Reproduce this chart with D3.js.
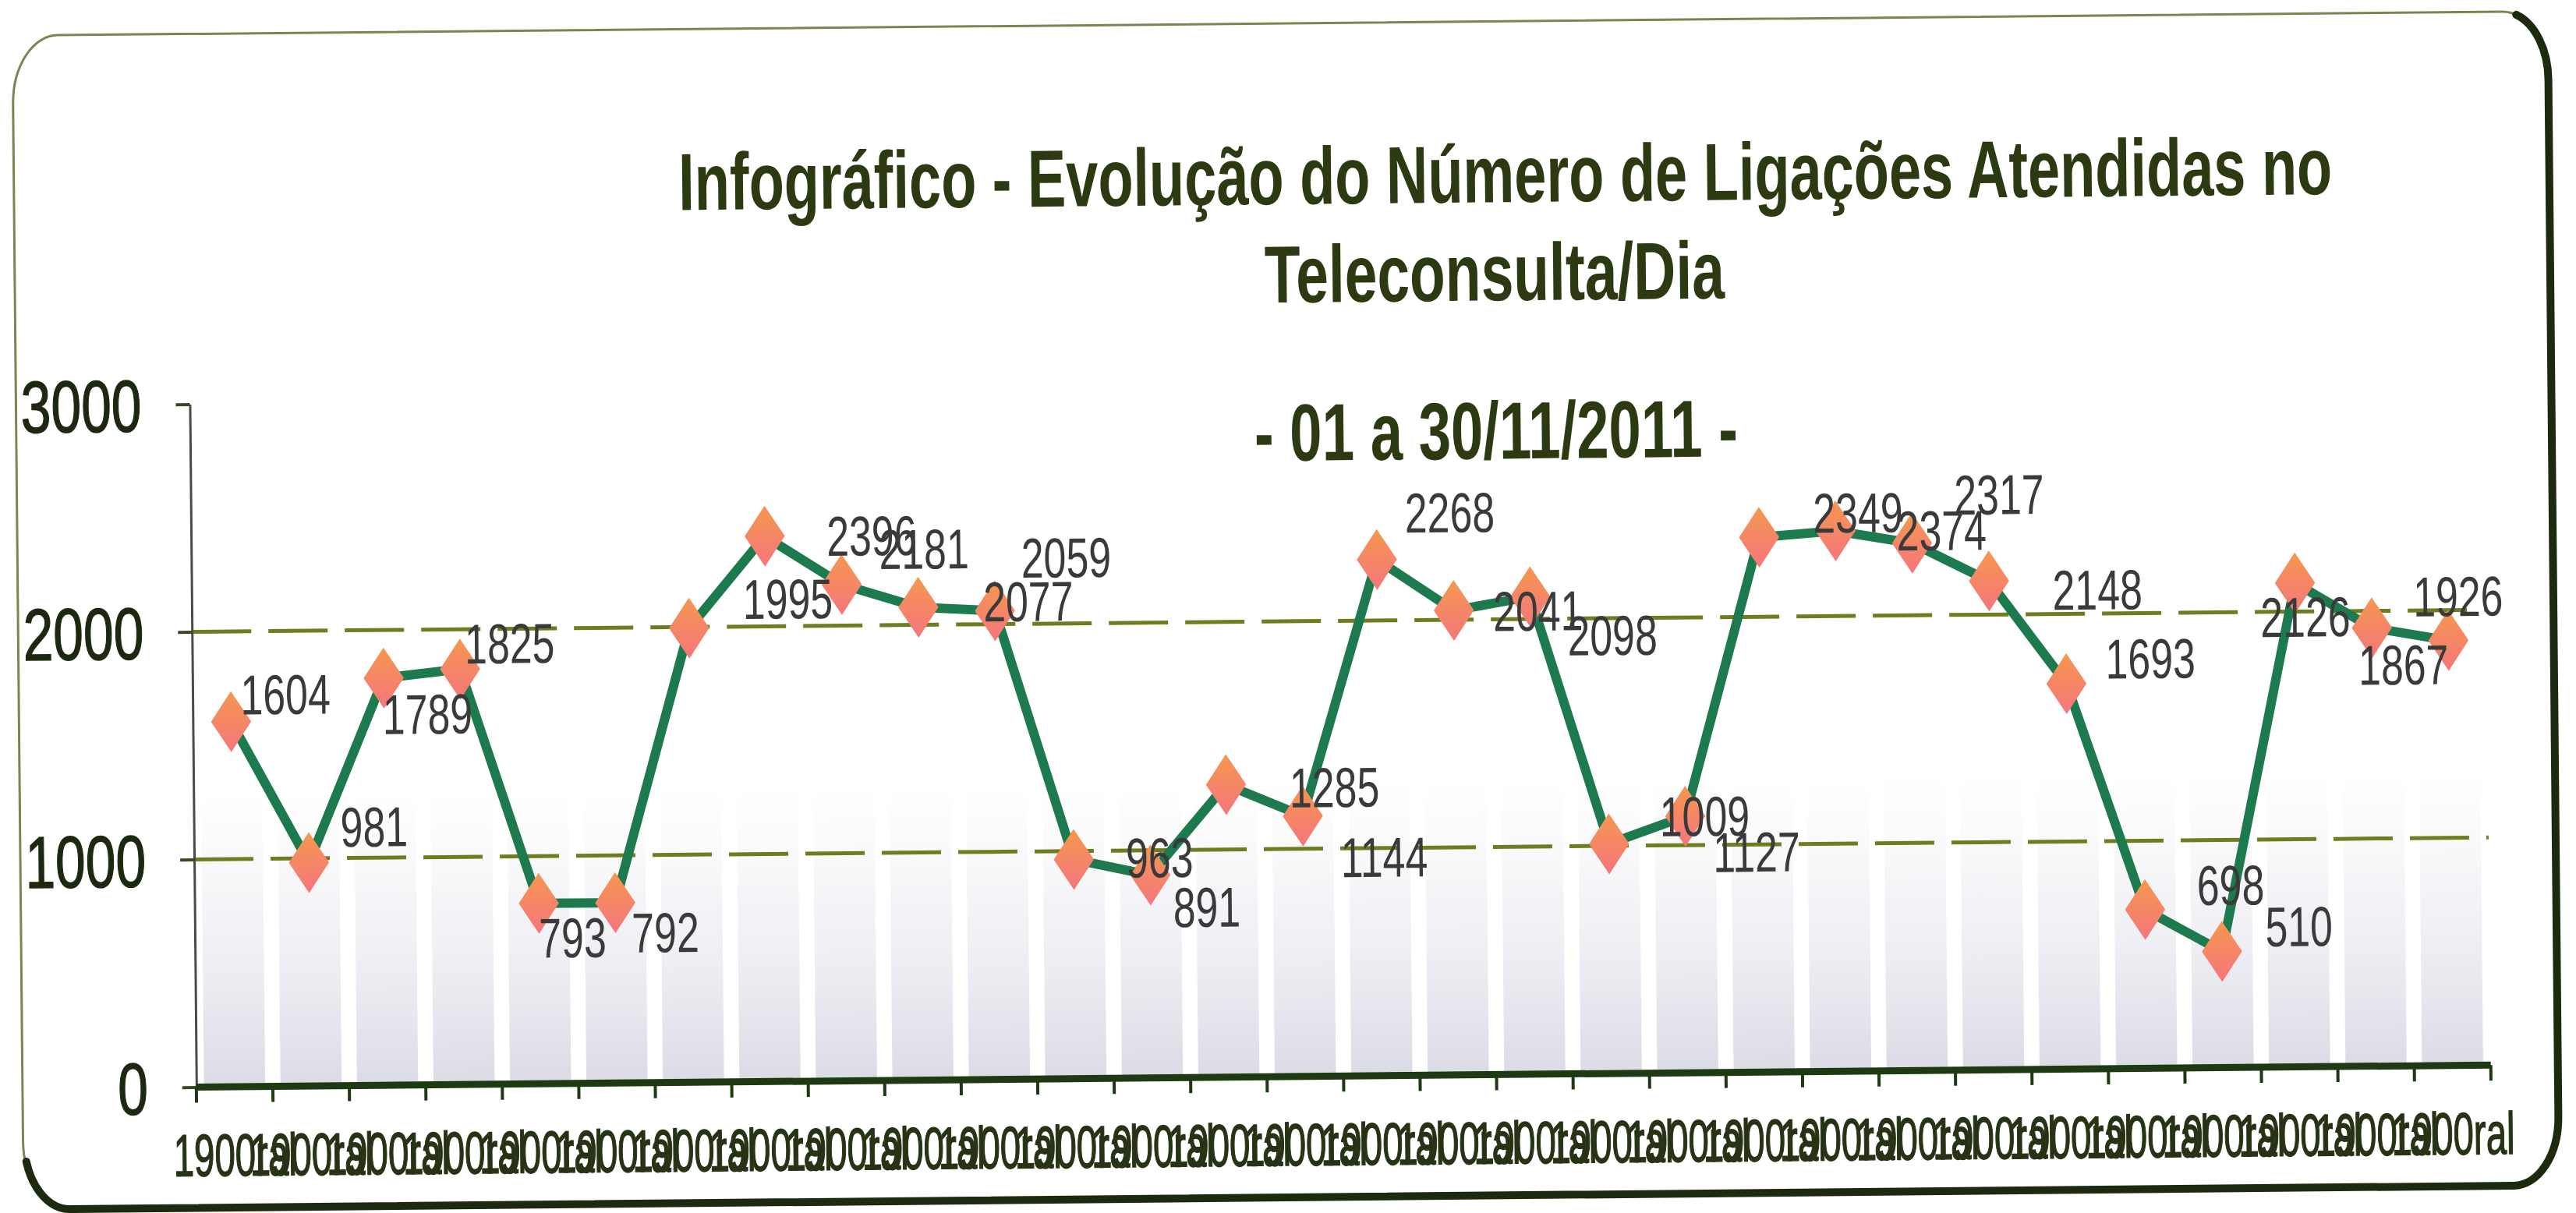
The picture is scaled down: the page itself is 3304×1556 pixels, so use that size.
<!DOCTYPE html>
<html>
<head>
<meta charset="utf-8">
<script src="https://cdn.jsdelivr.net/npm/d3@7"></script>
<style>
  html, body { margin: 0; padding: 0; background: #fff; }
  svg { display: block; }
  text { font-family: "Liberation Sans", Arial, sans-serif; }
</style>
</head>
<body>
<svg id="chart" width="3304" height="1556"></svg>
<script>
// ---- data ----
const days = ["01","02","03","04","05","06","07","08","09","10",
              "11","12","13","14","15","16","17","18","19","20",
              "21","22","23","24","25","26","27","28","29","30"];
const calls = [1604, 981, 1789, 1825, 793, 792, 1995, 2396, 2181, 2077,
               2059, 963, 891, 1285, 1144, 2268, 2041, 2098, 1009, 1127,
               2349, 2374, 2317, 2148, 1693, 698, 510, 2126, 1926, 1867];
const tickLabels = ["1900ral","1900ral","1900ral","1900ral","1900ral","1900ral","1900ral","1900ral","1900ral","1900ral",
                    "1900ral","1900ral","1900ral","1900ral","1900ral","1900ral","1900ral","1900ral","1900ral","1900ral",
                    "1900ral","1900ral","1900ral","1900ral","1900ral","1900ral","1900ral","1900ral","1900ral","1900ral"];
const yTicks = [0, 1000, 2000, 3000];
const gridValues = [1000, 2000];
const titleLines = ["Infográfico - Evolução do Número de Ligações Atendidas no",
                    "Teleconsulta/Dia",
                    "- 01 a 30/11/2011 -"];

// value labels were hand placed in the original, offsets (px) from each marker
const labelNudge = [[70,-35],[84,-46],[56,46],[64,-33],[43,44],[64,38],[127,-37],[137,0],[106,-45],[141,-7],
                    [92,-68],[110,-2],[72,41],[139,4],[104,53],[94,-60],[108,1],[105,50],[123,-35],[91,46],
                    [127,-31],[136,0],[112,-62],[139,12],[108,-32],[110,-31],[99,-32],[13,43],[111,-40],[-58,30]];

const W = 3304, H = 1556;
const plot = {left: 246, right: 3189, top: 505, bottom: 1381};
const frame = {x0: 23, x1: 3275, y0: 30, y1: 1536, rx: 58, ry: 88};

const svg = d3.select("#chart");
const defs = svg.append("defs");

let dg = defs.append("linearGradient").attr("id", "diamondFill")
    .attr("x1", 0).attr("y1", 0).attr("x2", 0).attr("y2", 1);
dg.append("stop").attr("offset", "0%").attr("stop-color", "#f6974f");
dg.append("stop").attr("offset", "100%").attr("stop-color", "#f4767c");

let sg = defs.append("linearGradient").attr("id", "stripeFill")
    .attr("x1", 0).attr("y1", 0).attr("x2", 0).attr("y2", 1);
sg.append("stop").attr("offset", "0%").attr("stop-color", "#eeeef4").attr("stop-opacity", 0);
sg.append("stop").attr("offset", "45%").attr("stop-color", "#e8e8f0").attr("stop-opacity", 0.55);
sg.append("stop").attr("offset", "100%").attr("stop-color", "#d9d9e4").attr("stop-opacity", 0.95);

// the scan is slightly tilted
const root = svg.append("g").attr("transform", "rotate(-0.55 1652 778)");

// frame
root.append("rect")
    .attr("x", frame.x0).attr("y", frame.y0)
    .attr("width", frame.x1 - frame.x0).attr("height", frame.y1 - frame.y0)
    .attr("rx", frame.rx).attr("ry", frame.ry)
    .attr("fill", "#fff").attr("stroke", "#7c8450").attr("stroke-width", 3);
root.append("path")
    .attr("d", `M${frame.x1 - frame.rx * 0.7},${frame.y0 + 4}` +
               `A${frame.rx},${frame.ry} 0 0 1 ${frame.x1},${frame.y0 + frame.ry}` +
               `L${frame.x1},${frame.y1 - frame.ry}` +
               `A${frame.rx},${frame.ry} 0 0 1 ${frame.x1 - frame.rx},${frame.y1}` +
               `L${frame.x0 + frame.rx},${frame.y1}` +
               `A${frame.rx},${frame.ry} 0 0 1 ${frame.x0 + 4},${frame.y1 - frame.ry * 0.7}`)
    .attr("fill", "none").attr("stroke", "#1c2a0e").attr("stroke-width", 10)
    .attr("stroke-linecap", "round");

// scales
const x = d3.scaleBand().domain(days).range([plot.left, plot.right]);
const y = d3.scaleLinear().domain([0, 3000]).range([plot.bottom, plot.top]);
const cx = d => x(d) + x.bandwidth() / 2;
const bw = x.bandwidth();

// background stripes in each category band
root.append("g").selectAll("rect")
    .data(days).enter().append("rect")
    .attr("x", d => x(d) + bw * 0.1)
    .attr("width", bw * 0.8)
    .attr("y", y(1300))
    .attr("height", y(0) - y(1300))
    .attr("fill", "url(#stripeFill)");

// grid lines
root.append("g").selectAll("line")
    .data(gridValues).enter().append("line")
    .attr("x1", plot.left).attr("x2", plot.right)
    .attr("y1", d => y(d)).attr("y2", d => y(d))
    .attr("stroke", "#6f7d1e").attr("stroke-width", 5)
    .attr("stroke-dasharray", "76 22");

// y axis
const yAxis = root.append("g").attr("transform", `translate(${plot.left},0)`)
    .call(d3.axisLeft(y).tickValues(yTicks).tickSize(18).tickSizeOuter(0).tickFormat(d3.format("d")));
yAxis.select(".domain").attr("stroke", "#4a4a4a").attr("stroke-width", 3);
yAxis.selectAll(".tick line").attr("stroke", "#3a4a20").attr("stroke-width", 4);
const ySX = 0.74;
yAxis.selectAll(".tick text")
    .attr("fill", "#1c2810").attr("font-size", 94)
    .attr("stroke", "#1c2810").attr("stroke-width", 1.5)
    .attr("font-family", "'Liberation Sans', Arial, sans-serif")
    .attr("x", -62 / ySX).attr("dy", "0.36em")
    .attr("transform", `scale(${ySX},1)`);

// x axis (ticks at band edges)
const xAxis = root.append("g");
xAxis.append("line")
    .attr("x1", plot.left).attr("x2", plot.right)
    .attr("y1", plot.bottom).attr("y2", plot.bottom)
    .attr("stroke", "#1d3a12").attr("stroke-width", 9);
const edges = days.map(d => x(d)).concat([plot.right]);
xAxis.selectAll("line.tk")
    .data(edges).enter().append("line").attr("class", "tk")
    .attr("x1", d => d).attr("x2", d => d)
    .attr("y1", plot.bottom).attr("y2", plot.bottom + 20)
    .attr("stroke", "#1d3a12").attr("stroke-width", 4);
xAxis.selectAll("text")
    .data(days).enter().append("text")
    .attr("x", d => cx(d)).attr("y", 1495)
    .attr("text-anchor", "middle")
    .attr("font-size", 76)
    .attr("fill", "#263314").attr("stroke", "#263314").attr("stroke-width", 1.5)
    .attr("textLength", 158).attr("lengthAdjust", "spacingAndGlyphs")
    .text((d, i) => tickLabels[i]);

// line
const line = d3.line().x((d, i) => cx(days[i])).y(d => y(d));
root.append("path")
    .datum(calls)
    .attr("d", line)
    .attr("fill", "none").attr("stroke", "#1d7a4f")
    .attr("stroke-width", 12).attr("stroke-linejoin", "round");

// diamond markers (taller than wide, as in the scan)
const tallDiamond = {
    draw(ctx, size) {
        const h = Math.sqrt(size) / 2, w = h * 0.66;
        ctx.moveTo(0, -h); ctx.lineTo(w, 0); ctx.lineTo(0, h); ctx.lineTo(-w, 0); ctx.closePath();
    }
};
root.append("g").selectAll("path")
    .data(calls).enter().append("path")
    .attr("transform", (d, i) => `translate(${cx(days[i])},${y(d)})`)
    .attr("d", d3.symbol().type(tallDiamond).size(78 * 78))
    .attr("fill", "url(#diamondFill)");

// value labels
const lSX = 0.72;
root.append("g").selectAll("text")
    .data(calls).enter().append("text")
    .attr("transform", (d, i) => `translate(${cx(days[i]) + labelNudge[i][0]},${y(d) + labelNudge[i][1]}) scale(${lSX},1)`)
    .attr("text-anchor", "middle").attr("dy", "0.36em")
    .attr("font-size", 72).attr("fill", "#3a3a3a")
    .text(d => d);

// title
const titleSpec = [
    {cx: 1936, y: 262, w: 2121},
    {cx: 1921, y: 388, w: 590},
    {cx: 1921, y: 591, w: 620}
];
root.append("g").selectAll("text")
    .data(titleLines).enter().append("text")
    .attr("x", (d, i) => titleSpec[i].cx)
    .attr("y", (d, i) => titleSpec[i].y)
    .attr("text-anchor", "middle")
    .attr("font-size", 104).attr("font-weight", "bold")
    .attr("fill", "#2c3a12")
    .attr("textLength", (d, i) => titleSpec[i].w)
    .attr("lengthAdjust", "spacingAndGlyphs")
    .text(d => d);
</script>
</body>
</html>
